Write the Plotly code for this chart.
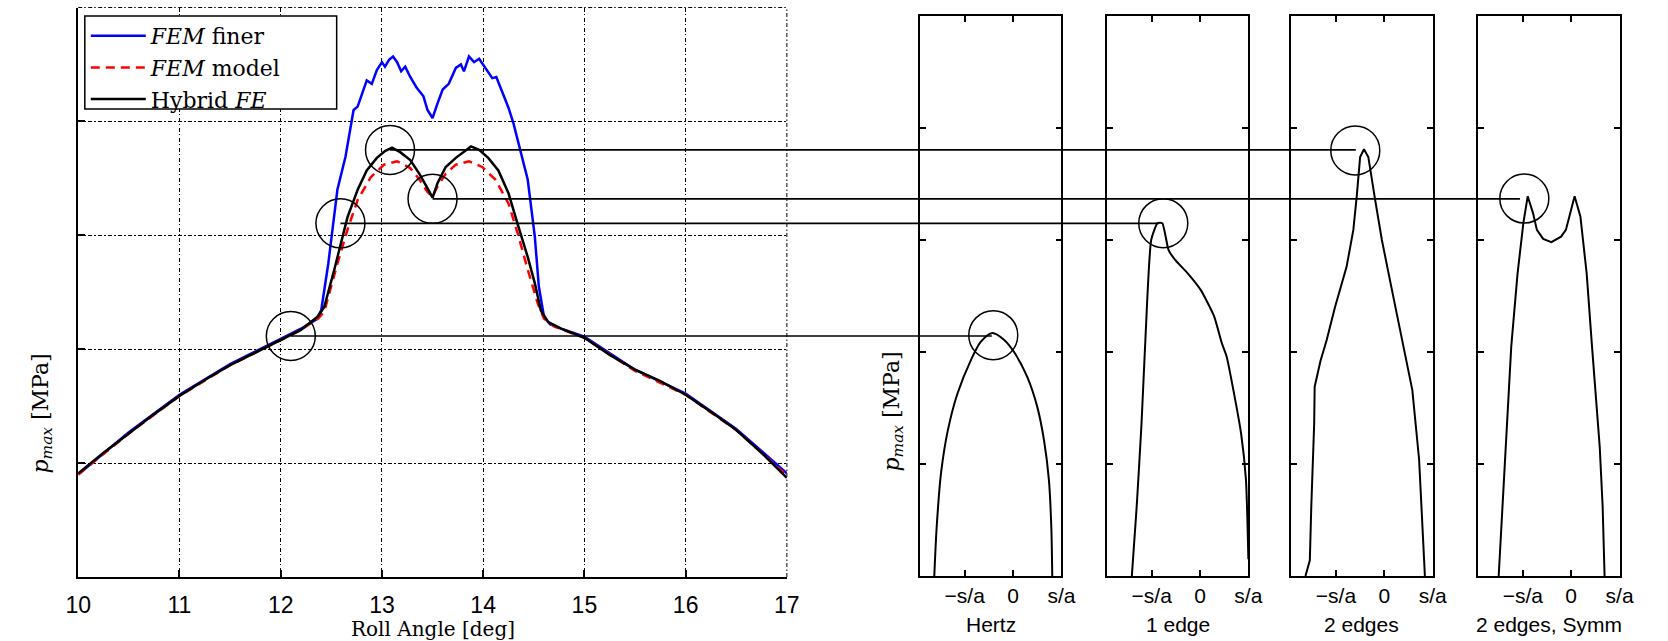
import plotly.graph_objects as go

W, H = 1668, 641

# ---------------- main plot data (roll angle [deg], p_max in plot units) ----------------
finer_angle = [10.0, 10.5, 11.0, 11.5, 12.0, 12.2, 12.35, 12.40, 12.47, 12.56, 12.64, 12.72, 12.76,
               12.85, 12.90, 12.95, 13.0, 13.03, 13.07, 13.11, 13.15, 13.19, 13.23, 13.28, 13.34,
               13.41, 13.45, 13.50, 13.55, 13.60, 13.66, 13.73, 13.78, 13.81, 13.86, 13.91, 13.96,
               14.0, 14.05, 14.09, 14.13, 14.18, 14.25, 14.30, 14.38, 14.44, 14.51, 14.55, 14.60,
               14.66, 14.77, 15.0, 15.5, 16.0, 16.5, 17.0]
finer_p = [0.90, 1.27, 1.60, 1.87, 2.09, 2.18, 2.26, 2.34, 2.75, 3.40, 3.69, 4.10, 4.13,
           4.36, 4.33, 4.45, 4.52, 4.48, 4.54, 4.57, 4.52, 4.44, 4.48, 4.39, 4.30,
           4.22, 4.10, 4.03, 4.16, 4.28, 4.33, 4.47, 4.50, 4.44, 4.57, 4.52, 4.55,
           4.50, 4.44, 4.38, 4.39, 4.28, 4.12, 3.98, 3.69, 3.49, 2.99, 2.55, 2.29,
           2.22, 2.18, 2.11, 1.82, 1.61, 1.30, 0.91]

model_angle = [10.0, 10.5, 11.0, 11.5, 12.0, 12.2, 12.37, 12.43, 12.56, 12.66, 12.76, 12.89, 13.02,
               13.15, 13.28, 13.37, 13.45, 13.50, 13.55, 13.63, 13.73, 13.86, 13.99, 14.12, 14.25,
               14.34, 14.44, 14.54, 14.60, 14.70, 15.0, 15.5, 16.0, 16.5, 17.0]
model_p = [0.90, 1.26, 1.59, 1.86, 2.08, 2.17, 2.27, 2.33, 2.75, 3.05, 3.31, 3.51, 3.62,
           3.65, 3.59, 3.49, 3.38, 3.34, 3.43, 3.54, 3.62, 3.65, 3.60, 3.49, 3.28,
           3.02, 2.70, 2.40, 2.27, 2.20, 2.10, 1.81, 1.60, 1.29, 0.89]

hybrid_angle = [10.0, 10.25, 10.5, 10.75, 11.0, 11.25, 11.5, 11.75, 12.0, 12.2, 12.37, 12.43, 12.53,
                12.61, 12.66, 12.76, 12.85, 12.95, 13.03, 13.10, 13.18, 13.28, 13.37, 13.44, 13.50,
                13.55, 13.63, 13.73, 13.83, 13.88, 13.96, 14.05, 14.15, 14.25, 14.34, 14.44, 14.51,
                14.57, 14.64, 14.77, 15.0, 15.25, 15.5, 15.75, 16.0, 16.25, 16.5, 16.75, 17.0]
hybrid_p = [0.91, 1.09, 1.26, 1.43, 1.59, 1.73, 1.86, 1.97, 2.08, 2.17, 2.29, 2.37, 2.70,
            2.99, 3.16, 3.40, 3.57, 3.68, 3.74, 3.77, 3.73, 3.66, 3.54, 3.43, 3.33,
            3.46, 3.60, 3.68, 3.75, 3.78, 3.75, 3.68, 3.57, 3.37, 3.10, 2.81, 2.58,
            2.34, 2.24, 2.18, 2.10, 1.95, 1.82, 1.72, 1.60, 1.45, 1.29, 1.09, 0.87]

x_ticks = [10, 11, 12, 13, 14, 15, 16, 17]

# ---------------- pressure distributions across contact (s/a units, p in panel units) ----------------
panel_names = ["Hertz", "1 edge", "2 edges", "2 edges, Symm"]
panel_s = [
    [-1.63, -1.58, -1.49, -1.35, -1.15, -0.87, -0.67, -0.43, -0.19, 0.02, 0.29, 0.50, 0.64, 0.74, 0.79, 0.81],
    [-1.41, -1.31, -1.21, -1.13, -1.01, -0.88, -0.78, -0.65, -0.51, -0.25, 0.02, 0.29, 0.45, 0.55, 0.69,
     0.85, 0.95, 0.98, 1.0],
    [-1.63, -1.54, -1.51, -1.45, -1.44, -1.32, -1.19, -1.02, -0.78, -0.64, -0.57, -0.50, -0.42, -0.33,
     -0.19, -0.05, 0.16, 0.37, 0.44, 0.58, 0.72, 0.79, 0.84],
    [-1.50, -1.38, -1.31, -1.24, -1.11, -0.99, -0.90, -0.79, -0.71, -0.58, -0.41, -0.21, -0.11, -0.01,
     0.07, 0.19, 0.32, 0.43, 0.52, 0.59, 0.65, 0.69],
]
panel_p = [
    [0.0, 0.44, 0.92, 1.30, 1.63, 1.93, 2.09, 2.17, 2.11, 2.00, 1.78, 1.51, 1.21, 0.86, 0.44, 0.0],
    [0.0, 0.62, 1.36, 2.11, 3.00, 3.15, 3.15, 2.91, 2.82, 2.70, 2.55, 2.32, 2.08, 1.96, 1.66,
     1.27, 0.86, 0.50, 0.15],
    [0.0, 0.14, 0.62, 1.36, 1.69, 1.92, 2.11, 2.40, 2.76, 3.09, 3.39, 3.74, 3.81, 3.74,
     3.36, 3.00, 2.55, 2.11, 1.96, 1.66, 1.04, 0.47, 0.0],
    [0.0, 0.92, 1.51, 2.05, 2.70, 3.15, 3.39, 3.24, 3.09, 3.01, 2.98, 3.03, 3.09, 3.27,
     3.39, 3.21, 2.70, 2.05, 1.51, 1.15, 0.62, 0.0],
]
panel_smooth = [0.8, 0.5, 0.0, 0.0]
s_tickvals = [-1, 0, 1]
s_ticktext = ["\u2212s/a", "0", "s/a"]

# highlighted points on the main curve and matching peaks in the panels
conn_angle = [13.08, 13.50, 12.59, 12.10]
conn_p = [3.75, 3.32, 3.105, 2.116]
conn_panel = [2, 3, 1, 0]
conn_panel_s = [-0.59, -1.06, -0.85, -0.44]
panel_circle_s = [-0.41, -0.76, -0.60, -0.97]
panel_circle_p = [2.15, 3.15, 3.80, 3.37]

# ---------------- layout geometry (pixels) ----------------
MAIN_L, MAIN_R, MAIN_T, MAIN_B = 66.3, 786.6, 7.5, 577.0
PANEL_L = [921.7, 1111.7, 1299.0, 1489.0]
PANEL_W = 144.0
PANEL_T, PANEL_B = 16.0, 576.0
LEGEND_BOX = (73, 16, 329, 109)
S_RANGE = [-1.93, 1.0]
P_RANGE_MAIN = [0, 5]
P_RANGE_PANEL = [0, 5]

def px(x):
    return x / W

def py(y):
    return 1 - y / H

SERIF = "DejaVu Serif"
SANS = "Liberation Sans"
GRID_DASH = "4px,2px,1.5px,2.5px"
P_TITLE = "<i>p</i><sub><i>max</i></sub> [MPa]"

fig = go.Figure()

fig.add_trace(go.Scatter(x=finer_angle, y=finer_p, mode="lines", name="<i>FEM</i> finer",
                         line=dict(color="#0000ff", width=2.5), xaxis="x", yaxis="y"))
fig.add_trace(go.Scatter(x=model_angle, y=model_p, mode="lines", name="<i>FEM</i> model",
                         line=dict(color="#ff0000", width=2.5, dash="9px,6px"), xaxis="x", yaxis="y"))
fig.add_trace(go.Scatter(x=hybrid_angle, y=hybrid_p, mode="lines", name="Hybrid <i>FE</i>",
                         line=dict(color="#000000", width=2.5), xaxis="x", yaxis="y"))
fig.add_trace(go.Scatter(x=conn_angle, y=conn_p, mode="markers", showlegend=False, hoverinfo="skip",
                         marker=dict(symbol="circle-open", size=49, color="black", line=dict(width=1.5)),
                         xaxis="x", yaxis="y"))

layout = dict(
    width=W, height=H, margin=dict(l=0, r=0, t=0, b=0),
    paper_bgcolor="white", plot_bgcolor="white",
    showlegend=True,
    legend=dict(x=px(LEGEND_BOX[0] + 1), y=py(LEGEND_BOX[1] - 1), xanchor="left", yanchor="top",
                bgcolor="rgba(0,0,0,0)", borderwidth=0,
                font=dict(family=SERIF, size=22, color="black"),
                itemwidth=55, tracegroupgap=0),
    xaxis=dict(domain=[px(MAIN_L), px(MAIN_R)], range=[10, 17], tickvals=x_ticks,
               ticks="inside", ticklen=7, tickwidth=1.5, tickcolor="black",
               showline=True, linecolor="black", linewidth=1.8, mirror=False,
               showgrid=True, gridcolor="black", gridwidth=1, griddash=GRID_DASH,
               zeroline=False, tickfont=dict(family=SANS, size=23, color="black"),
               ticklabelstandoff=6, anchor="y"),
    yaxis=dict(domain=[py(MAIN_B), py(MAIN_T)], range=P_RANGE_MAIN, dtick=1, tick0=0,
               ticks="inside", ticklen=7, tickwidth=1.5, tickcolor="black",
               showline=True, linecolor="black", linewidth=1.8, mirror=False,
               showgrid=True, gridcolor="black", gridwidth=1, griddash=GRID_DASH,
               zeroline=False, showticklabels=False, anchor="x"),
)

shapes = []
annotations = []

# dotted top and right borders of the main axes (grid at the limits)
shapes.append(dict(type="line", xref="x domain", yref="y domain", x0=0, x1=1, y0=1, y1=1,
                   line=dict(color="black", width=1, dash=GRID_DASH), layer="above"))
shapes.append(dict(type="line", xref="x domain", yref="y domain", x0=1, x1=1, y0=0, y1=1,
                   line=dict(color="black", width=1, dash=GRID_DASH), layer="above"))
# legend frame
shapes.append(dict(type="rect", xref="paper", yref="paper",
                   x0=px(LEGEND_BOX[0]), x1=px(LEGEND_BOX[2]), y0=py(LEGEND_BOX[3]), y1=py(LEGEND_BOX[1]),
                   fillcolor="white", line=dict(color="black", width=1.5), layer="above"))

for i in range(4):
    xa = "x%d" % (i + 2)
    ya = "y%d" % (i + 2)
    sm = panel_smooth[i]
    fig.add_trace(go.Scatter(x=panel_s[i], y=panel_p[i], mode="lines", showlegend=False,
                             line=dict(color="black", width=2.0, shape="spline" if sm > 0 else "linear",
                                       smoothing=sm if sm > 0 else 1),
                             xaxis=xa, yaxis=ya, hoverinfo="skip"))
    fig.add_trace(go.Scatter(x=[panel_circle_s[i]], y=[panel_circle_p[i]], mode="markers", showlegend=False,
                             marker=dict(symbol="circle-open", size=49, color="black", line=dict(width=1.5)),
                             xaxis=xa, yaxis=ya, hoverinfo="skip"))
    l = PANEL_L[i]
    layout["xaxis%d" % (i + 2)] = dict(
        domain=[px(l), px(l + PANEL_W)], range=S_RANGE, tickvals=s_tickvals, ticktext=s_ticktext,
        ticks="inside", ticklen=6, tickwidth=1.5, tickcolor="black",
        showline=True, linecolor="black", linewidth=1.8, mirror="ticks",
        showgrid=False, zeroline=False, tickfont=dict(family=SANS, size=21, color="black"),
        anchor=ya)
    layout["yaxis%d" % (i + 2)] = dict(
        domain=[py(PANEL_B), py(PANEL_T)], range=P_RANGE_PANEL, dtick=1, tick0=0,
        ticks="inside", ticklen=6, tickwidth=1.5, tickcolor="black",
        showline=True, linecolor="black", linewidth=1.8, mirror="ticks",
        showgrid=False, zeroline=False, showticklabels=False, anchor=xa)
    annotations.append(dict(text=panel_names[i], xref="%s domain" % xa, yref="paper",
                            x=0.5, y=py(624), xanchor="center", yanchor="middle", showarrow=False,
                            font=dict(family=SANS, size=21, color="black")))

# connector lines from main-curve points to the panel peaks
main_xd = layout["xaxis"]["domain"]
for a, p, k, s in zip(conn_angle, conn_p, conn_panel, conn_panel_s):
    x0 = main_xd[0] + (a - 10) / (17 - 10) * (main_xd[1] - main_xd[0])
    pd = layout["xaxis%d" % (k + 2)]["domain"]
    x1 = pd[0] + (s - S_RANGE[0]) / (S_RANGE[1] - S_RANGE[0]) * (pd[1] - pd[0])
    shapes.append(dict(type="line", xref="paper", yref="y", x0=x0, x1=x1, y0=p, y1=p,
                       line=dict(color="black", width=1.6), layer="above"))

annotations.append(dict(text="Roll Angle [deg]", xref="x domain", yref="paper", x=0.5, y=py(629),
                        xanchor="center", yanchor="middle", showarrow=False,
                        font=dict(family=SERIF, size=20, color="black")))
annotations.append(dict(text=P_TITLE, xref="paper", yref="paper",
                        x=px(29), y=py(414), xanchor="center", yanchor="middle", textangle=-90,
                        showarrow=False, font=dict(family=SERIF, size=22, color="black")))
annotations.append(dict(text=P_TITLE, xref="paper", yref="paper",
                        x=px(894), y=py(412), xanchor="center", yanchor="middle", textangle=-90,
                        showarrow=False, font=dict(family=SERIF, size=22, color="black")))

layout["shapes"] = shapes
layout["annotations"] = annotations
fig.update_layout(**layout)

fig.write_html("out.html")
